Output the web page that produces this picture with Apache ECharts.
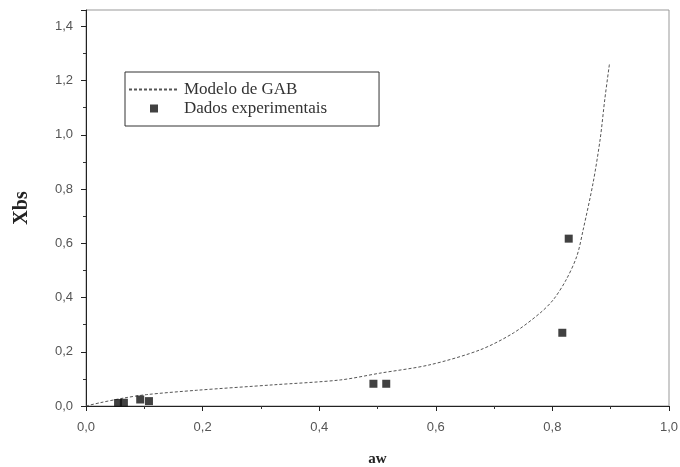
<!DOCTYPE html>
<html>
<head>
<meta charset="utf-8">
<script src="https://cdn.jsdelivr.net/npm/echarts@6/dist/echarts.min.js"></script>
<style>
  html, body { margin: 0; padding: 0; background: #fff; }
  #chart { width: 680px; height: 467px; }
</style>
</head>
<body>
<div id="chart"></div>
<script>
// curva do modelo de GAB
const gabAw = [0, 0.024, 0.064, 0.104, 0.19, 0.321, 0.436, 0.504, 0.59, 0.676, 0.733, 0.779, 0.802, 0.824, 0.842, 0.853, 0.870, 0.882, 0.890, 0.898]
const gabXbs = [0, 0.012, 0.029, 0.042, 0.058, 0.078, 0.096, 0.121, 0.152, 0.207, 0.269, 0.343, 0.393, 0.467, 0.553, 0.652, 0.825, 0.985, 1.133, 1.263]
// dados experimentais
const expAw = [0.055, 0.065, 0.093, 0.108, 0.493, 0.515, 0.817, 0.828]
const expXbs = [0.011, 0.012, 0.024, 0.018, 0.082, 0.082, 0.27, 0.617]
const xTicks = [0, 0.2, 0.4, 0.6, 0.8, 1.0]
const yTicks = [0, 0.2, 0.4, 0.6, 0.8, 1.0, 1.2, 1.4]

const chart = echarts.init(document.getElementById('chart'))

// formata com vírgula decimal, só nos ticks principais
const fmt = (ticks) => (v) => {
  const hit = ticks.find(t => Math.abs(t - v) < 1e-6)
  return hit === undefined ? '' : hit.toFixed(1).replace('.', ',')
}

const axisCommon = {
  type: 'value',
  interval: 0.2,
  axisLine: { show: true, lineStyle: { color: '#222', width: 1 } },
  axisTick: { show: true, inside: false, length: 5, lineStyle: { color: '#222' } },
  minorTick: { show: true, splitNumber: 2, length: 3, lineStyle: { color: '#333' } },
  splitLine: { show: false },
  nameTextStyle: { fontFamily: 'Liberation Serif', fontWeight: 'bold', color: '#222' }
}
const labelCommon = { fontFamily: 'Liberation Sans', fontSize: 13, color: '#555' }

chart.setOption({
  animation: false,
  backgroundColor: '#fff',
  grid: {
    left: 86, right: 11, top: 10, bottom: 61,
    outerBoundsMode: 'none',
    show: true, borderColor: '#999', borderWidth: 1
  },
  legend: {
    orient: 'vertical',
    left: 125,
    top: 72,
    padding: [8, 52, 8, 3],
    itemWidth: 50,
    itemHeight: 8,
    itemGap: 0,
    borderColor: '#333',
    borderWidth: 1,
    borderRadius: 0,
    symbolKeepAspect: true,
    textStyle: { fontFamily: 'Liberation Serif', fontSize: 17, color: '#333', lineHeight: 19 },
    data: [
      { name: 'Modelo de GAB', itemStyle: { opacity: 0 } },
      { name: 'Dados experimentais', icon: 'path://M0,0L10,0L10,10L0,10Z' }
    ]
  },
  xAxis: Object.assign({}, axisCommon, {
    min: 0,
    max: 1,
    name: 'aw',
    nameLocation: 'middle',
    nameGap: 46,
    nameTextStyle: Object.assign({}, axisCommon.nameTextStyle, { fontSize: 15 }),
    axisLabel: Object.assign({ margin: 15, formatter: fmt(xTicks) }, labelCommon)
  }),
  yAxis: Object.assign({}, axisCommon, {
    min: 0,
    max: 1.46,
    name: 'Xbs',
    nameLocation: 'middle',
    nameGap: 54,
    nameRotate: 90,
    nameTextStyle: Object.assign({}, axisCommon.nameTextStyle, { fontSize: 20 }),
    axisLabel: Object.assign({ margin: 13, showMaxLabel: false, formatter: fmt(yTicks) }, labelCommon)
  }),
  series: [
    {
      name: 'Modelo de GAB',
      type: 'line',
      data: gabAw.map((x, i) => [x, gabXbs[i]]),
      smooth: 0.3,
      symbol: 'none',
      lineStyle: { color: '#555', width: 1, type: [3, 2] },
      itemStyle: { color: '#555' },
      z: 2
    },
    {
      name: 'Dados experimentais',
      type: 'scatter',
      data: expAw.map((x, i) => [x, expXbs[i]]),
      symbol: 'rect',
      symbolSize: 8,
      itemStyle: { color: '#111' },
      z: 3
    }
  ]
})
</script>
</body>
</html>
